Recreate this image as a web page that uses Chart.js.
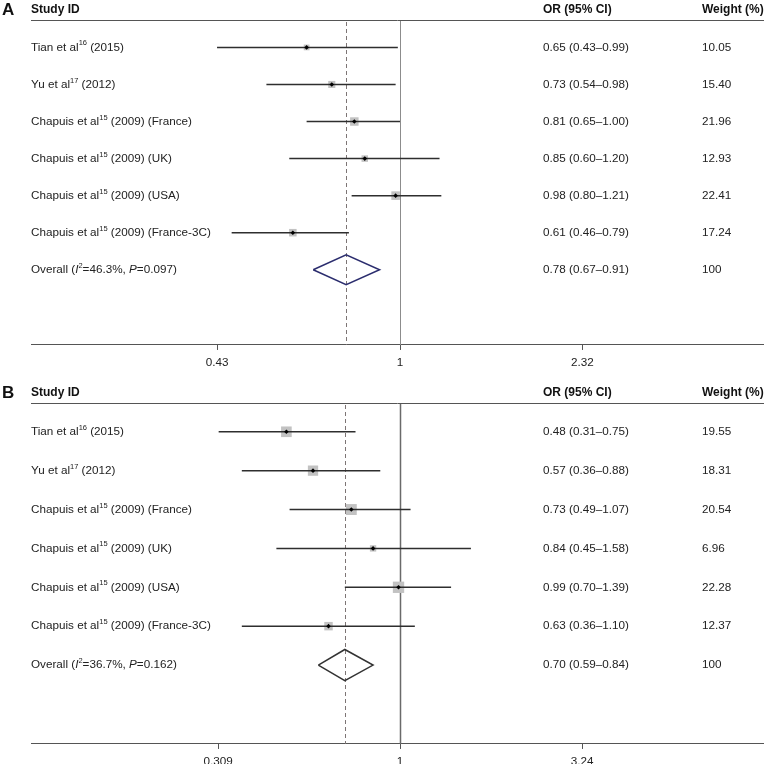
<!DOCTYPE html>
<html>
<head>
<meta charset="utf-8">
<script src="https://cdn.jsdelivr.net/npm/chart.js@4.4.0/dist/chart.umd.min.js"></script>
<style>
  html, body { margin: 0; padding: 0; background: #fff; overflow: hidden; }
  .panel { position: relative; width: 764px; height: 382px; }
</style>
</head>
<body>
<div class="panel"><canvas id="chart-a"></canvas></div>
<div class="panel"><canvas id="chart-b"></canvas></div>
<script>
'use strict';

// *************** GLOBALS / DATA
const studyNames = ['Tian et al', 'Yu et al', 'Chapuis et al', 'Chapuis et al', 'Chapuis et al', 'Chapuis et al'];
const studyRefs = ['16', '17', '15', '15', '15', '15'];
const studySuffix = [' (2015)', ' (2012)', ' (2009) (France)', ' (2009) (UK)', ' (2009) (USA)', ' (2009) (France-3C)'];

// panel A
const orA = [0.65, 0.73, 0.81, 0.85, 0.98, 0.61];
const lowA = [0.43, 0.54, 0.65, 0.60, 0.80, 0.46];
const highA = [0.99, 0.98, 1.00, 1.20, 1.21, 0.79];
const weightA = [10.05, 15.40, 21.96, 12.93, 22.41, 17.24];
const overallA = [0.78, 0.67, 0.91]; // estimate, low, high
const hetA = ['46.3%', '0.097'];
const ticksA = [0.43, 1, 2.32];

// panel B
const orB = [0.48, 0.57, 0.73, 0.84, 0.99, 0.63];
const lowB = [0.31, 0.36, 0.49, 0.45, 0.70, 0.36];
const highB = [0.75, 0.88, 1.07, 1.58, 1.39, 1.10];
const weightB = [19.55, 18.31, 20.54, 6.96, 22.28, 12.37];
const overallB = [0.70, 0.59, 0.84];
const hetB = ['36.7%', '0.162'];
const ticksB = [0.309, 1, 3.24];

const FONT = '"Liberation Sans", Arial, Helvetica, sans-serif';
const TEXT_COLOR = '#222';
const TEXT_SIZE = 11.7;

// ***************** HELPER FUNCTIONS

function fmtCI(est, lo, hi) {
  return `${est.toFixed(2)} (${lo.toFixed(2)}\u2013${hi.toFixed(2)})`;
}

function drawRich(ctx, parts, x, y) {
  let cx = x;
  for (const part of parts) {
    const size = part.sup ? 7.5 : TEXT_SIZE;
    ctx.font = `${part.it ? 'italic ' : ''}${size}px ${FONT}`;
    ctx.fillText(part.t, cx, part.sup ? y - 4 : y);
    cx += ctx.measureText(part.t).width;
  }
}

function forestTextPlugin(p) {
  return {
    id: 'forestText' + p.letter,
    beforeDatasetsDraw(chart) {
      const { ctx, chartArea, scales } = chart;
      const x1 = scales.x.getPixelForValue(1);
      const xo = scales.x.getPixelForValue(p.overall[0]);
      ctx.save();
      // line of no effect
      ctx.strokeStyle = p.nullColor;
      ctx.lineWidth = p.nullWidth;
      ctx.beginPath();
      ctx.moveTo(Math.round(x1) + 0.5, chartArea.top);
      ctx.lineTo(Math.round(x1) + 0.5, chartArea.bottom);
      ctx.stroke();
      // overall estimate, dashed
      ctx.strokeStyle = '#7d7575';
      ctx.lineWidth = 1;
      ctx.setLineDash([4, 3]);
      ctx.beginPath();
      ctx.moveTo(Math.round(xo) + 0.5, chartArea.top + 2);
      ctx.lineTo(Math.round(xo) + 0.5, chartArea.bottom);
      ctx.stroke();
      ctx.restore();
    },
    afterDraw(chart) {
      const { ctx, chartArea, scales } = chart;
      const colOR = 543;
      const colW = 702;
      ctx.save();
      // header rule
      ctx.strokeStyle = '#555';
      ctx.lineWidth = 1;
      ctx.beginPath();
      ctx.moveTo(chartArea.left, chartArea.top + 0.5);
      ctx.lineTo(chart.width, chartArea.top + 0.5);
      ctx.stroke();

      ctx.fillStyle = '#111';
      ctx.textBaseline = 'middle';
      ctx.textAlign = 'left';
      const hy = chartArea.top - 10;
      ctx.font = `bold 17px ${FONT}`;
      ctx.fillText(p.letter, 2, hy);
      ctx.font = `bold 12px ${FONT}`;
      ctx.fillText('Study ID', chartArea.left, hy);
      ctx.fillText('OR (95% CI)', colOR, hy);
      ctx.fillText('Weight (%)', colW, hy);

      ctx.fillStyle = TEXT_COLOR;
      for (let i = 0; i < studyNames.length; i++) {
        const y = scales.y.getPixelForValue(i);
        drawRich(ctx, [{ t: studyNames[i] }, { t: studyRefs[i], sup: true }, { t: studySuffix[i] }], chartArea.left, y);
        ctx.font = `${TEXT_SIZE}px ${FONT}`;
        ctx.fillText(fmtCI(p.or[i], p.low[i], p.high[i]), colOR, y);
        ctx.fillText(p.weight[i].toFixed(2), colW, y);
      }
      const oy = scales.y.getPixelForValue(studyNames.length);
      drawRich(ctx, [
        { t: 'Overall (' }, { t: 'I', it: true }, { t: '2', sup: true },
        { t: '=' + p.het[0] + ', ' }, { t: 'P', it: true }, { t: '=' + p.het[1] + ')' }
      ], chartArea.left, oy);
      ctx.font = `${TEXT_SIZE}px ${FONT}`;
      ctx.fillText(fmtCI(p.overall[0], p.overall[1], p.overall[2]), colOR, oy);
      ctx.fillText('100', colW, oy);
      ctx.restore();
    }
  };
}

function buildDatasets(p) {
  const sets = [];
  // study point estimates (black dots, on top)
  sets.push({
    data: p.or.map((v, i) => ({ x: v, y: i })),
    pointStyle: 'rectRot',
    pointRadius: 2.3,
    backgroundColor: '#000',
    borderWidth: 0,
    order: 0
  });
  // confidence intervals
  for (let i = 0; i < p.or.length; i++) {
    sets.push({
      data: [{ x: p.low[i], y: i }, { x: p.high[i], y: i }],
      showLine: true,
      borderColor: '#2e2e2e',
      borderWidth: 1.5,
      pointRadius: 0,
      order: 1
    });
  }
  // weight boxes
  sets.push({
    data: p.or.map((v, i) => ({ x: v, y: i })),
    pointStyle: 'rect',
    pointRadius: p.weight.map(w => p.boxScale * Math.sqrt(w)),
    backgroundColor: '#c2c2c2',
    borderWidth: 0,
    order: 2
  });
  // pooled diamond
  const r = studyNames.length;
  sets.push({
    data: [
      { x: p.overall[1], y: r },
      { x: p.overall[0], y: r - 0.4 },
      { x: p.overall[2], y: r },
      { x: p.overall[0], y: r + 0.4 },
      { x: p.overall[1], y: r }
    ],
    showLine: true,
    borderColor: p.diamondColor,
    borderWidth: 1.5,
    pointRadius: 0,
    fill: false,
    order: 1
  });
  return sets;
}

function renderPanel(canvasId, p) {
  const ctx = document.getElementById(canvasId);
  return new Chart(ctx, { // eslint-disable-line
    type: 'scatter',
    data: { datasets: buildDatasets(p) },
    options: {
      responsive: true,
      maintainAspectRatio: false,
      animation: false,
      events: [],
      layout: { padding: p.padding, autoPadding: false },
      plugins: { legend: { display: false }, tooltip: { enabled: false } },
      scales: {
        x: {
          type: 'logarithmic',
          min: p.xMin,
          max: p.xMax,
          afterBuildTicks: (scale) => { scale.ticks = p.ticks.map(v => ({ value: v })); },
          afterFit: (scale) => { scale.paddingLeft = 0; scale.paddingRight = 0; },
          ticks: {
            autoSkip: false,
            maxRotation: 0,
            color: TEXT_COLOR,
            font: { family: FONT, size: TEXT_SIZE },
            padding: 6,
            callback: (v) => String(v)
          },
          grid: { drawOnChartArea: false, drawTicks: true, tickLength: 5, color: '#555' },
          border: { display: true, color: '#555', width: 1 }
        },
        y: {
          type: 'linear',
          reverse: true,
          min: -0.74,
          max: 8.03,
          display: false
        }
      }
    },
    plugins: [forestTextPlugin(p)]
  });
}

// **************** EXECUTABLE CODE
const panelA = {
  letter: 'A', or: orA, low: lowA, high: highA, weight: weightA,
  overall: overallA, het: hetA, ticks: ticksA,
  xMin: 0.1823, xMax: 5.36, boxScale: 1.28,
  diamondColor: '#2b2d6e', nullColor: '#8c8c8c', nullWidth: 1,
  padding: { left: 31, top: 20, right: 0, bottom: 6 }
};
const panelB = {
  letter: 'B', or: orB, low: lowB, high: highB, weight: weightB,
  overall: overallB, het: hetB, ticks: ticksB,
  xMin: 0.0923, xMax: 10.48, boxScale: 1.7,
  diamondColor: '#333', nullColor: '#6a6a6a', nullWidth: 1.5,
  padding: { left: 31, top: 21, right: 0, bottom: -11 }
};

renderPanel('chart-a', panelA);
renderPanel('chart-b', panelB);
</script>
</body>
</html>
